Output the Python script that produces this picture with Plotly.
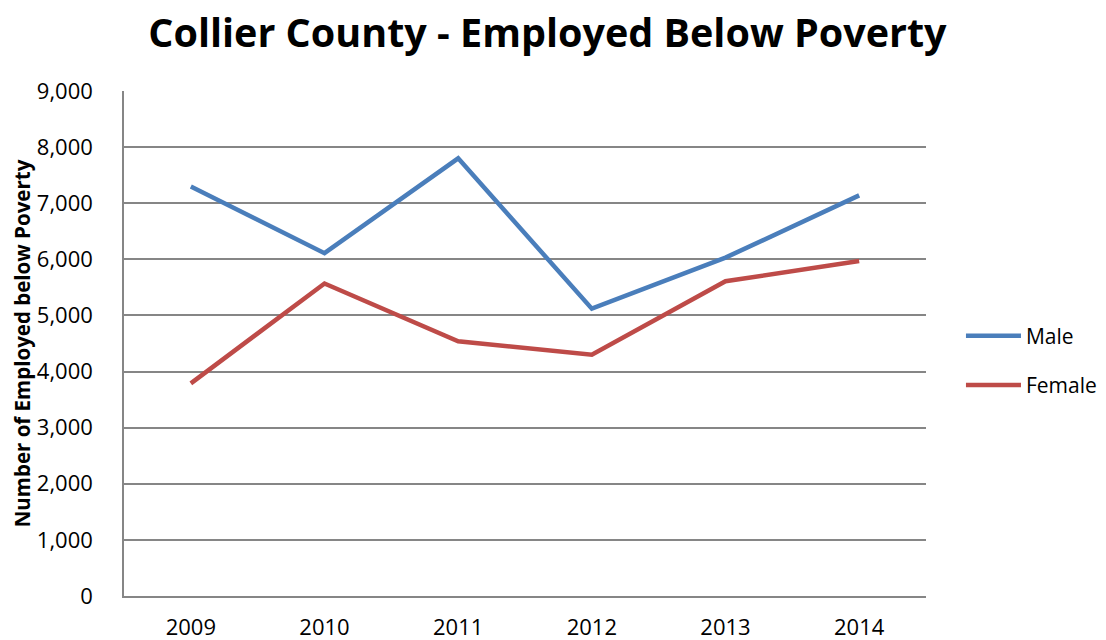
import plotly.graph_objects as go

years = ["2009", "2010", "2011", "2012", "2013", "2014"]
male = [7300, 6110, 7800, 5120, 6030, 7140]
female = [3790, 5570, 4540, 4300, 5610, 5970]
y_ticks = [0, 1000, 2000, 3000, 4000, 5000, 6000, 7000, 8000, 9000]

FONT = "Open Sans"

fig = go.Figure()
fig.add_trace(go.Scatter(x=years, y=male, mode="lines", name="Male", legendgroup="m",
                         line=dict(color="#4A7EBB", width=4.5)))
fig.add_trace(go.Scatter(x=years, y=female, mode="lines", name="Female", legendgroup="f",
                         line=dict(color="#BE4B48", width=4.5)))

# page body has an 8px margin, so the figure is sized to fit the window
fig.update_layout(
    width=1098, height=632,
    margin=dict(l=116, r=180, t=83, b=44, autoexpand=False),
    paper_bgcolor="white", plot_bgcolor="white",
    font=dict(family=FONT, color="black"),
    title=dict(text="<b>Collier County - Employed Below Poverty</b>",
               x=0.4913, xanchor="center", y=0.96, yanchor="middle",
               font=dict(size=39.5, family=FONT, color="black")),
    legend=dict(x=1.0436, xanchor="left", y=0.466, yanchor="middle",
                font=dict(size=21, family=FONT), itemwidth=55,
                tracegroupgap=19, bgcolor="rgba(0,0,0,0)",
                traceorder="grouped"),
    showlegend=True,
)
fig.update_xaxes(type="category", range=[-0.5, 5.5], showgrid=False, automargin=False,
                 showline=True, linecolor="#868686", linewidth=1.5,
                 ticks="", tickfont=dict(size=22, family=FONT),
                 ticklabelstandoff=11)
fig.update_yaxes(range=[0, 9000], tickvals=y_ticks, tickformat=",d", automargin=False,
                 showgrid=True, gridcolor="#868686", gridwidth=1.5,
                 showline=True, linecolor="#868686", linewidth=1.5,
                 zeroline=False, ticks="", tickfont=dict(size=22, family=FONT),
                 ticklabelstandoff=25,
                 title=dict(text="<b>Number of Employed below Poverty</b>",
                            font=dict(size=20.5, family=FONT), standoff=12))

fig.write_html("out.html")
